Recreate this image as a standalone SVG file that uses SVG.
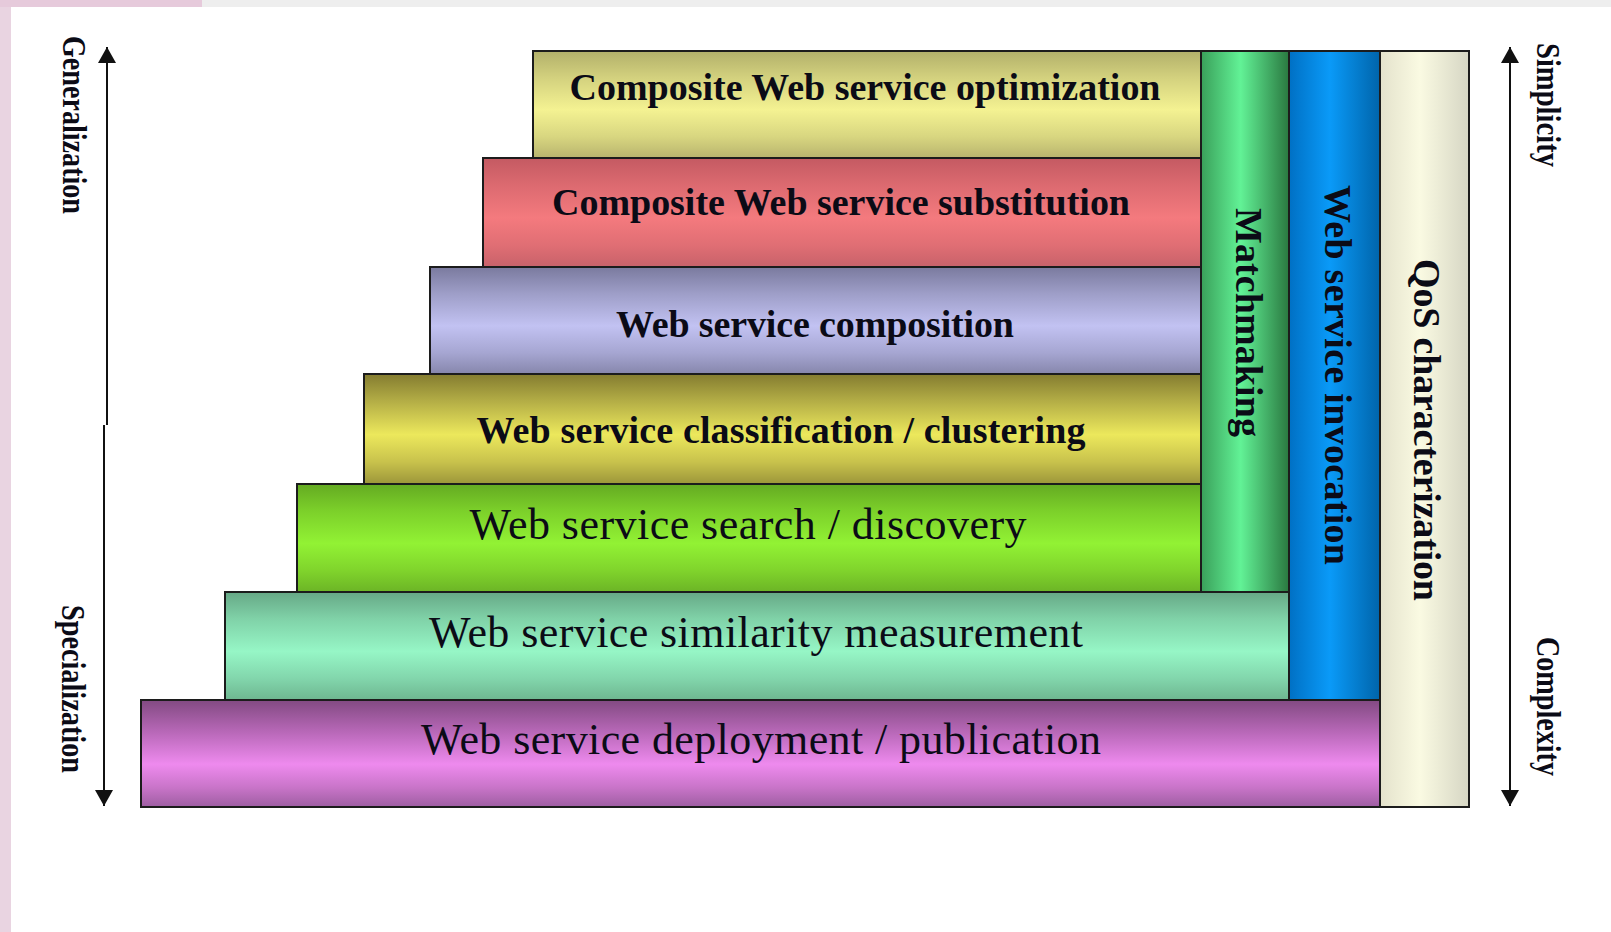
<svg xmlns="http://www.w3.org/2000/svg" width="1611" height="932" viewBox="0 0 1611 932">
  <style>
    .box { stroke: #1c1c1c; stroke-width: 2; }
    .lbl { font-family: "Liberation Serif", "Times New Roman", serif; fill: #0b0b16; }
    .b38 { font-size: 38px; font-weight: bold; }
    .r44 { font-size: 44px; font-weight: normal; }
    .side { font-family: "Liberation Serif", "Times New Roman", serif; font-size: 33px; font-weight: bold; fill: #0b0b16; }
    .axis { fill: none; stroke: #111; stroke-width: 2; }
  </style>
  <defs>
    <!-- horizontal banded fills for the layers -->
    <linearGradient id="gOpt" x1="0" y1="0" x2="0" y2="1">
      <stop offset="0" stop-color="#b2b06a"/>
      <stop offset="0.25" stop-color="#d3d17e"/>
      <stop offset="0.55" stop-color="#f4f292"/>
      <stop offset="0.8" stop-color="#d8d680"/>
      <stop offset="1" stop-color="#b8b46e"/>
    </linearGradient>
    <linearGradient id="gSub" x1="0" y1="0" x2="0" y2="1">
      <stop offset="0" stop-color="#c45a62"/>
      <stop offset="0.25" stop-color="#dc6a70"/>
      <stop offset="0.55" stop-color="#f47a7e"/>
      <stop offset="0.8" stop-color="#e06e74"/>
      <stop offset="1" stop-color="#c8626a"/>
    </linearGradient>
    <linearGradient id="gComp" x1="0" y1="0" x2="0" y2="1">
      <stop offset="0" stop-color="#7a7a9e"/>
      <stop offset="0.25" stop-color="#9e9ec8"/>
      <stop offset="0.55" stop-color="#c2c2f2"/>
      <stop offset="0.8" stop-color="#a6a6d2"/>
      <stop offset="1" stop-color="#8686ac"/>
    </linearGradient>
    <linearGradient id="gClass" x1="0" y1="0" x2="0" y2="1">
      <stop offset="0" stop-color="#847c30"/>
      <stop offset="0.25" stop-color="#b4ae46"/>
      <stop offset="0.55" stop-color="#ece85c"/>
      <stop offset="0.8" stop-color="#c8c24c"/>
      <stop offset="1" stop-color="#9c963a"/>
    </linearGradient>
    <linearGradient id="gSearch" x1="0" y1="0" x2="0" y2="1">
      <stop offset="0" stop-color="#64aa22"/>
      <stop offset="0.25" stop-color="#7cd02a"/>
      <stop offset="0.55" stop-color="#92f234"/>
      <stop offset="0.8" stop-color="#80d42c"/>
      <stop offset="1" stop-color="#6cb426"/>
    </linearGradient>
    <linearGradient id="gSim" x1="0" y1="0" x2="0" y2="1">
      <stop offset="0" stop-color="#66a886"/>
      <stop offset="0.25" stop-color="#80d2a8"/>
      <stop offset="0.55" stop-color="#96f6c6"/>
      <stop offset="0.8" stop-color="#82d6ac"/>
      <stop offset="1" stop-color="#6eb690"/>
    </linearGradient>
    <linearGradient id="gDep" x1="0" y1="0" x2="0" y2="1">
      <stop offset="0" stop-color="#824a82"/>
      <stop offset="0.3" stop-color="#b868b8"/>
      <stop offset="0.6" stop-color="#ee8aee"/>
      <stop offset="0.82" stop-color="#c874c8"/>
      <stop offset="1" stop-color="#9e5ea2"/>
    </linearGradient>
    <!-- vertical pillars, shaded left to right -->
    <linearGradient id="gMatch" x1="0" y1="0" x2="1" y2="0">
      <stop offset="0" stop-color="#3aa05a"/>
      <stop offset="0.45" stop-color="#62f296"/>
      <stop offset="1" stop-color="#2a7840"/>
    </linearGradient>
    <linearGradient id="gInv" x1="0" y1="0" x2="1" y2="0">
      <stop offset="0" stop-color="#0070c4"/>
      <stop offset="0.45" stop-color="#0a9af8"/>
      <stop offset="1" stop-color="#0064aa"/>
    </linearGradient>
    <linearGradient id="gQos" x1="0" y1="0" x2="1" y2="0">
      <stop offset="0" stop-color="#e4e2cc"/>
      <stop offset="0.45" stop-color="#fafae2"/>
      <stop offset="1" stop-color="#d6d6c4"/>
    </linearGradient>
    <marker id="head" viewBox="0 0 16 18" markerWidth="16" markerHeight="18" refX="16" refY="9" orient="auto" markerUnits="userSpaceOnUse">
      <path d="M0,0 L16,9 L0,18 z" fill="#111"/>
    </marker>
  </defs>

  <!-- page background and window edges -->
  <rect x="0" y="0" width="1611" height="932" fill="#ffffff"/>
  <rect x="0" y="0" width="11" height="932" fill="#e9d4e1"/>
  <rect x="0" y="0" width="202" height="7" fill="#e6cadb"/>
  <rect x="202" y="0" width="1409" height="7" fill="#eeeeee"/>

  <!-- layers, top to bottom -->
  <g id="layer-optimization">
    <rect class="box" x="533" y="51" width="668" height="107" fill="url(#gOpt)"/>
    <text class="lbl b38" x="865" y="100" text-anchor="middle" textLength="591">Composite Web service optimization</text>
  </g>
  <g id="layer-substitution">
    <rect class="box" x="483" y="158" width="718" height="109" fill="url(#gSub)"/>
    <text class="lbl b38" x="841" y="215" text-anchor="middle" textLength="578">Composite Web service substitution</text>
  </g>
  <g id="layer-composition">
    <rect class="box" x="430" y="267" width="771" height="107" fill="url(#gComp)"/>
    <text class="lbl b38" x="815" y="337" text-anchor="middle" textLength="398">Web service composition</text>
  </g>
  <g id="layer-classification">
    <rect class="box" x="364" y="374" width="837" height="110" fill="url(#gClass)"/>
    <text class="lbl b38" x="781" y="443" text-anchor="middle" textLength="609">Web service classification / clustering</text>
  </g>
  <g id="layer-search">
    <rect class="box" x="297" y="484" width="904" height="108" fill="url(#gSearch)"/>
    <text class="lbl r44" x="748" y="539" text-anchor="middle" textLength="557">Web service search / discovery</text>
  </g>
  <g id="layer-similarity">
    <rect class="box" x="225" y="592" width="1064" height="108" fill="url(#gSim)"/>
    <text class="lbl r44" x="756" y="647" text-anchor="middle" textLength="654">Web service similarity measurement</text>
  </g>
  <g id="layer-deployment">
    <rect class="box" x="141" y="700" width="1239" height="107" fill="url(#gDep)"/>
    <text class="lbl r44" x="761" y="754" text-anchor="middle" textLength="680">Web service deployment / publication</text>
  </g>

  <!-- vertical pillars -->
  <g id="pillar-matchmaking">
    <rect class="box" x="1201" y="51" width="88" height="541" fill="url(#gMatch)"/>
    <text class="lbl b38" transform="translate(1236,208) rotate(90)" textLength="229">Matchmaking</text>
  </g>
  <g id="pillar-invocation">
    <rect class="box" x="1289" y="51" width="91" height="649" fill="url(#gInv)"/>
    <text class="lbl b38" transform="translate(1325,185) rotate(90)" textLength="380">Web service invocation</text>
  </g>
  <g id="pillar-qos">
    <rect class="box" x="1380" y="51" width="89" height="756" fill="url(#gQos)"/>
    <text class="lbl b38" transform="translate(1414,259) rotate(90)" textLength="342">QoS characterization</text>
  </g>

  <!-- axis labels -->
  <g id="label-generalization">
    <text class="side" transform="translate(63,36) rotate(90)" textLength="178" lengthAdjust="spacingAndGlyphs">Generalization</text>
  </g>
  <g id="label-specialization">
    <text class="side" transform="translate(62,605) rotate(90)" textLength="168" lengthAdjust="spacingAndGlyphs">Specialization</text>
  </g>
  <g id="label-simplicity">
    <text class="side" transform="translate(1537,43) rotate(90)" textLength="124" lengthAdjust="spacingAndGlyphs">Simplicity</text>
  </g>
  <g id="label-complexity">
    <text class="side" transform="translate(1537,637) rotate(90)" textLength="139" lengthAdjust="spacingAndGlyphs">Complexity</text>
  </g>

  <!-- axis arrows -->
  <g id="connectors">
    <line class="axis" x1="107" y1="425" x2="107" y2="47" stroke="#444" marker-end="url(#head)"/>
    <line class="axis" x1="104" y1="425" x2="104" y2="806" marker-end="url(#head)"/>
    <line class="axis" x1="1510" y1="427" x2="1510" y2="47" marker-end="url(#head)"/>
    <line class="axis" x1="1510" y1="427" x2="1510" y2="806" marker-end="url(#head)"/>
  </g>
</svg>
